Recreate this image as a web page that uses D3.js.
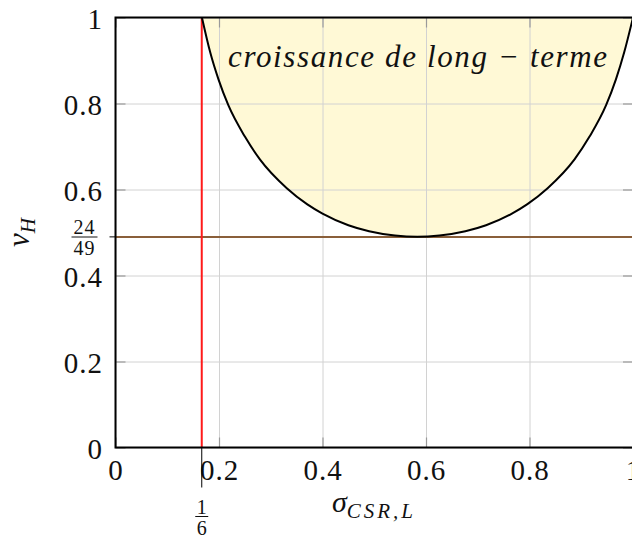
<!DOCTYPE html>
<html>
<head>
<meta charset="utf-8">
<script src="https://cdn.jsdelivr.net/npm/d3@7"></script>
<style>
  body { margin: 0; background: white; }
  svg { display: block; overflow: hidden; }
  text { font-family: "Liberation Serif", serif; fill: #111; }
</style>
</head>
<body>
<svg id="chart"></svg>
<script>
let width = 632;
let height = 538;
let plotLeft = 115.5, plotRight = 633, plotTop = 17.5, plotBottom = 447.5;

let xTicks = [0, 0.2, 0.4, 0.6, 0.8, 1];
let yTicks = [0, 0.2, 0.4, 0.6, 0.8, 1];
let sigmaMin = 1 / 6;
let vMin = 24 / 49;

// boundary of the "long-term growth" region
let curveSigma = [0.167, 0.183, 0.199, 0.218, 0.250, 0.279, 0.331, 0.370, 0.400, 0.450, 0.490, 0.540, 0.583,
                  0.626, 0.676, 0.716, 0.766, 0.796, 0.835, 0.887, 0.916, 0.948, 0.967, 0.983, 1.000];
let curveV = [1.000, 0.919, 0.856, 0.796, 0.723, 0.670, 0.603, 0.566, 0.544, 0.517, 0.503, 0.493, 0.490,
              0.493, 0.503, 0.517, 0.544, 0.566, 0.603, 0.670, 0.723, 0.796, 0.856, 0.919, 1.000];

let svg = d3.select("#chart").attr("width", width).attr("height", height);

let x = d3.scaleLinear().domain([0, 1]).range([plotLeft, plotRight]);
let y = d3.scaleLinear().domain([0, 1]).range([plotBottom, plotTop]);

let pts = curveSigma.map((s, i) => [s, curveV[i]]);

// yellow region
let area = d3.area()
    .x(d => x(d[0]))
    .y0(y(1))
    .y1(d => y(d[1]))
    .curve(d3.curveMonotoneX);

svg.append("path")
    .datum(pts)
    .attr("d", area)
    .attr("fill", "#fff9d6");

// grid
svg.append("g")
    .attr("transform", `translate(0,${plotBottom})`)
    .call(d3.axisBottom(x).tickValues(xTicks).tickSize(-(plotBottom - plotTop)).tickFormat(""))
    .call(g => g.select(".domain").remove())
    .call(g => g.selectAll("line").attr("stroke", "#d2d2d2").attr("stroke-width", 1));

svg.append("g")
    .attr("transform", `translate(${plotLeft},0)`)
    .call(d3.axisLeft(y).tickValues(yTicks).tickSize(-(plotRight - plotLeft)).tickFormat(""))
    .call(g => g.select(".domain").remove())
    .call(g => g.selectAll("line").attr("stroke", "#d2d2d2").attr("stroke-width", 1));

// small inner tick marks on all four sides
let tickLen = 10;
function innerTicks(axis, tx, ty) {
    svg.append("g")
        .attr("transform", `translate(${tx},${ty})`)
        .call(axis.tickSize(-tickLen).tickFormat(""))
        .call(g => g.select(".domain").remove())
        .call(g => g.selectAll("line").attr("stroke", "#9a9a9a").attr("stroke-width", 1.2));
}
innerTicks(d3.axisBottom(x).tickValues(xTicks), 0, plotBottom);
innerTicks(d3.axisTop(x).tickValues(xTicks), 0, plotTop);
innerTicks(d3.axisLeft(y).tickValues(yTicks), plotLeft, 0);
innerTicks(d3.axisRight(y).tickValues(yTicks), plotRight, 0);

// tick labels
svg.append("g")
    .attr("transform", `translate(0,${plotBottom})`)
    .call(d3.axisBottom(x).tickValues(xTicks).tickSize(0).tickPadding(12).tickFormat(d => String(d)))
    .call(g => g.select(".domain").remove())
    .call(g => g.selectAll("text").attr("font-size", 29).attr("letter-spacing", 1)
        .attr("font-family", "Liberation Serif").attr("fill", "#111"));

svg.append("g")
    .attr("transform", `translate(${plotLeft},0)`)
    .call(d3.axisLeft(y).tickValues(yTicks).tickSize(0).tickPadding(12.5).tickFormat(d => String(d)))
    .call(g => g.select(".domain").remove())
    .call(g => g.selectAll("text").attr("font-size", 29).attr("dy", "0.38em").attr("letter-spacing", 1)
        .attr("font-family", "Liberation Serif").attr("fill", "#111"));

// brown horizontal line at v = 24/49
svg.append("line")
    .attr("x1", x(0)).attr("x2", x(1))
    .attr("y1", y(vMin)).attr("y2", y(vMin))
    .attr("stroke", "#8a5f3a").attr("stroke-width", 2);

// red vertical line at sigma = 1/6
svg.append("line")
    .attr("x1", x(sigmaMin)).attr("x2", x(sigmaMin))
    .attr("y1", y(0)).attr("y2", y(1))
    .attr("stroke", "#ff1a1a").attr("stroke-width", 2);

// boundary curve
let line = d3.line()
    .x(d => x(d[0]))
    .y(d => y(d[1]))
    .curve(d3.curveMonotoneX);

svg.append("path")
    .datum(pts)
    .attr("d", line)
    .attr("fill", "none")
    .attr("stroke", "black")
    .attr("stroke-width", 2);

// axis box
svg.append("rect")
    .attr("x", plotLeft).attr("y", plotTop)
    .attr("width", plotRight - plotLeft).attr("height", plotBottom - plotTop)
    .attr("fill", "none").attr("stroke", "black").attr("stroke-width", 2);

// extra ticks: 1/6 and 24/49
svg.append("line")
    .attr("x1", x(sigmaMin)).attr("x2", x(sigmaMin))
    .attr("y1", plotBottom).attr("y2", plotBottom + 40)
    .attr("stroke", "black").attr("stroke-width", 1);

svg.append("line")
    .attr("x1", plotLeft - 6).attr("x2", plotLeft)
    .attr("y1", y(vMin)).attr("y2", y(vMin))
    .attr("stroke", "black").attr("stroke-width", 1);

function fraction(cx, barY, num, den) {
    let g = svg.append("g").attr("font-size", 20).attr("letter-spacing", num.length > 1 ? 1 : 0);
    g.append("text").attr("x", cx).attr("y", barY - 3).attr("text-anchor", "middle").text(num);
    g.append("line")
        .attr("x1", cx - (num.length * 6.5)).attr("x2", cx + (num.length * 6.5))
        .attr("y1", barY).attr("y2", barY)
        .attr("stroke", "#111").attr("stroke-width", 1);
    g.append("text").attr("x", cx).attr("y", barY + 18).attr("text-anchor", "middle").text(den);
}
fraction(x(sigmaMin), 516.5, "1", "6");
fraction(84.5, 237, "24", "49");

// region label
svg.append("text")
    .attr("x", 228).attr("y", 67)
    .attr("font-size", 31)
    .attr("font-style", "italic")
    .attr("textLength", 379)
    .attr("lengthAdjust", "spacing")
    .text("croissance de long \u2212 terme");

// axis titles
let xt = svg.append("text")
    .attr("x", 374).attr("y", 512)
    .attr("text-anchor", "middle")
    .attr("font-style", "italic")
    .attr("font-size", 30);
xt.append("tspan").text("σ");
xt.append("tspan").attr("font-size", 21).attr("dy", 6).attr("letter-spacing", 3).text("CSR,L");

let yt = svg.append("text")
    .attr("transform", `translate(29,${(plotTop + plotBottom) / 2}) rotate(-90)`)
    .attr("text-anchor", "middle")
    .attr("font-style", "italic")
    .attr("font-size", 31);
yt.append("tspan").text("v");
yt.append("tspan").attr("font-size", 21).attr("dy", 6).text("H");
</script>
</body>
</html>
